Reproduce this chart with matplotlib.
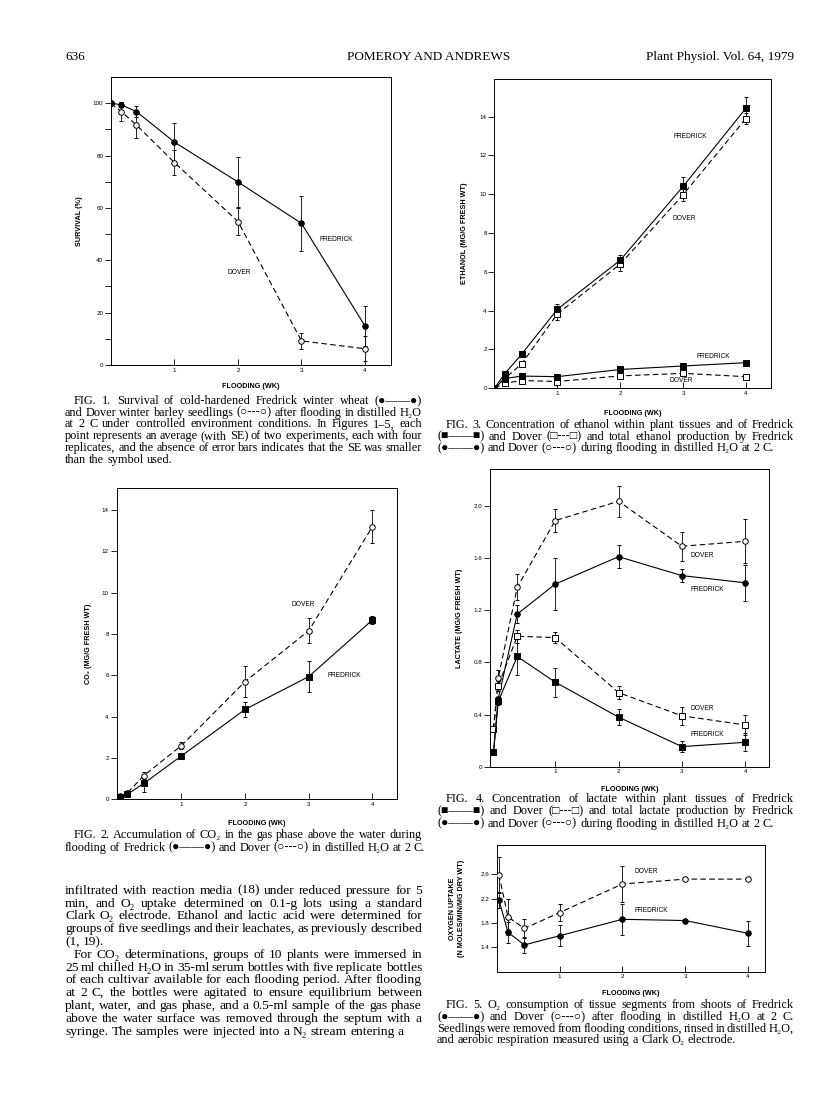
import matplotlib
matplotlib.use('Agg')
import matplotlib.pyplot as plt
from matplotlib.transforms import IdentityTransform

W, H = 816, 1100
SERIF = ['Liberation Serif', 'DejaVu Sans']
SANS = ['Liberation Sans', 'DejaVu Sans']

# Fig. 1 survival (%)
weeks1 = [0, 0.16, 0.4, 1, 2, 3, 4]
fred1 = [100, 99.4, 96.8, 85.1, 69.9, 54.1, 14.9]
fred1_se = [0, 1, 2, 7.4, 9.7, 10.6, 7.5]
dover1 = [100, 96.8, 91.7, 77.3, 54.8, 9.2, 6.2]
dover1_se = [0, 3.5, 5, 4.7, 5, 3.2, 4.8]

# Fig. 2 CO2
weeks2 = [0.03, 0.15, 0.41, 1, 2, 3, 4]
fred2 = [0.13, 0.24, 0.77, 2.1, 4.35, 5.94, 8.68]
fred2_se = [0, 0, 0.42, 0, 0.37, 0.77, 0.2]
dover2 = [0.16, 0.3, 1.15, 2.6, 5.7, 8.16, 13.2]
dover2_se = [0, 0, 0.17, 0.15, 0.77, 0.6, 0.8]

# Fig. 3 ethanol
weeks3 = [0, 0.16, 0.43, 1, 2, 3, 4]
fred3_total = [0, 0.74, 1.75, 4.07, 6.6, 10.4, 14.43]
fred3_total_se = [0, 0, 0, 0.28, 0.25, 0.48, 0.6]
dover3_total = [0, 0.5, 1.25, 3.83, 6.4, 9.97, 13.9]
dover3_total_se = [0, 0, 0, 0.3, 0.35, 0.3, 0.3]
fred3_tissue = [0, 0.5, 0.63, 0.6, 0.97, 1.15, 1.32]
dover3_tissue = [0, 0.26, 0.4, 0.35, 0.64, 0.77, 0.6]

# Fig. 4 lactate
weeks4 = [0.025, 0.1, 0.4, 1, 2, 3, 4]
fred4_total = [0.11, 0.52, 1.17, 1.4, 1.61, 1.465, 1.41]
fred4_total_se = [0, 0, 0.07, 0.2, 0.09, 0.05, 0.14]
dover4_total = [0.29, 0.68, 1.375, 1.887, 2.035, 1.69, 1.728]
dover4_total_se = [0, 0.06, 0.1, 0.09, 0.12, 0.11, 0.17]
fred4_tissue = [0.11, 0.5, 0.845, 0.648, 0.38, 0.154, 0.187]
fred4_tissue_se = [0, 0.03, 0.14, 0.11, 0.06, 0.04, 0.07]
dover4_tissue = [0.29, 0.62, 1.0, 0.99, 0.568, 0.39, 0.32]
dover4_tissue_se = [0, 0.04, 0.05, 0.04, 0.05, 0.07, 0.08]

# Fig. 5 oxygen uptake
weeks5 = [0.035, 0.18, 0.44, 1, 2, 3, 4]
fred5 = [2.18, 1.645, 1.44, 1.59, 1.86, 1.84, 1.63]
fred5_se = [0.13, 0.17, 0.13, 0.17, 0.25, 0.02, 0.2]
dover5 = [2.59, 1.9, 1.71, 1.97, 2.44, 2.52, 2.52]
dover5_se = [0.3, 0.3, 0.15, 0.14, 0.3, 0.03, 0.03]

fig = plt.figure(figsize=(W / 100, H / 100), dpi=100)
fig.patch.set_facecolor('white')
rend = fig.canvas.get_renderer()


def put_line(txt, x0, x1, y, size, justify=True):
    """一行文字, y 为行中心(像素, 自上而下)"""
    base = H - y - size * 0.33 * 100 / 72
    words = txt.split(' ')
    objs = [fig.text(0, base, w, fontsize=size, family=SERIF,
                     transform=IdentityTransform(), va='baseline') for w in words]
    widths = [o.get_window_extent(renderer=rend).width for o in objs]
    if justify and len(words) > 1:
        gap = (x1 - x0 - sum(widths)) / (len(words) - 1)
    else:
        gap = size * 0.25 * 100 / 72
    x = x0
    for o, w in zip(objs, widths):
        o.set_x(x)
        x += w + gap


def para(lines, x0, x1, y0, dy, size, indent=9):
    for i, ln in enumerate(lines):
        ind = indent if ln.startswith('FIG.') or ln.startswith('For ') else 0
        last = i == len(lines) - 1 or ln.endswith('(1, 19).')
        put_line(ln, x0 + ind, x1, y0 + i * dy, size, justify=not last)


def panel(l, t, r, b, xmin, xmax, ylim, yticks, ylabels, ylabel, ylab_off, xlab_off):
    ax = fig.add_axes([l / W, 1 - b / H, (r - l) / W, (b - t) / H])
    ax.set_xlim(xmin, xmax)
    ax.set_ylim(*ylim)
    ax.set_xticks([1, 2, 3, 4])
    ax.set_xticklabels(['1', '2', '3', '4'], family=SANS)
    ax.set_yticks(yticks)
    ax.set_yticklabels(ylabels, family=SANS)
    ax.tick_params(axis='x', direction='in', length=4, width=0.6, labelsize=4.5, pad=2)
    ax.tick_params(axis='y', direction='out', length=4, width=0.6, labelsize=4.5, pad=1.5)
    for s in ax.spines.values():
        s.set_linewidth(0.7)
    ax.set_xlabel('FLOODING (WK)', fontsize=5.2, fontweight='bold', family=SANS)
    ax.xaxis.set_label_coords(0.5, -xlab_off / (b - t))
    ax.set_ylabel(ylabel, fontsize=5.2, fontweight='bold', family=SANS, linespacing=1.4)
    ax.yaxis.set_label_coords(-ylab_off / (r - l), 0.5)
    return ax


def series(ax, x, y, se, marker, filled, dashed):
    ax.errorbar(x, y, yerr=se, color='k', lw=0.8,
                ls=(0, (5, 3)) if dashed else '-',
                marker=marker, ms=4, mfc='k' if filled else 'white', mec='k', mew=0.7,
                elinewidth=0.6, capsize=1.5, capthick=0.6, zorder=3)


def tag(ax, x, y, s):
    ax.text(x, y, s, fontsize=4.8, family=SANS, va='center', ha='left')


# 页眉
fig.text(65, H - 60, '636', fontsize=9.5, family=SERIF, transform=IdentityTransform())
fig.text(429, H - 60, 'POMEROY AND ANDREWS', fontsize=9.5, family=SERIF, ha='center',
         transform=IdentityTransform())
fig.text(794, H - 60, 'Plant Physiol. Vol. 64, 1979', fontsize=9.5, family=SERIF, ha='right',
         transform=IdentityTransform())

# 图1
ax1 = panel(111, 77, 391, 365, 0, 4.41, (0, 110), [0, 20, 40, 60, 80, 100],
            ['0', '20', '40', '60', '80', '100'], 'SURVIVAL (%)', 28, 18)
ax1.set_yticks([10, 30, 50, 70, 90], minor=True)
ax1.tick_params(axis='y', which='minor', direction='out', length=4, width=0.6)
series(ax1, weeks1, dover1, dover1_se, 'o', False, True)
series(ax1, weeks1, fred1, fred1_se, 'o', True, False)
tag(ax1, 3.29, 47.8, 'FREDRICK')
tag(ax1, 1.84, 35.3, 'DOVER')

# 图2
ax2 = panel(116.5, 488.3, 397.3, 799.3, -0.02, 4.39, (0, 15.05), list(range(0, 15, 2)),
            [str(v) for v in range(0, 15, 2)], 'CO₂ (MG/G FRESH WT)', 24, 21)
series(ax2, weeks2, dover2, dover2_se, 'o', False, True)
series(ax2, weeks2, fred2, fred2_se, 's', True, False)
tag(ax2, 2.73, 9.45, 'DOVER')
tag(ax2, 3.3, 5.98, 'FREDRICK')

# 图3
ax3 = panel(494.5, 79, 771, 388.3, 0, 4.40, (0, 15.94), list(range(0, 15, 2)),
            [str(v) for v in range(0, 15, 2)], 'ETHANOL (MG/G FRESH WT)', 26, 22)
series(ax3, weeks3, dover3_total, dover3_total_se, 's', False, True)
series(ax3, weeks3, fred3_total, fred3_total_se, 's', True, False)
series(ax3, weeks3, dover3_tissue, [0] * 7, 's', False, True)
series(ax3, weeks3, fred3_tissue, [0] * 7, 's', True, False)
tag(ax3, 2.85, 13.0, 'FREDRICK')
tag(ax3, 2.84, 8.76, 'DOVER')
tag(ax3, 3.22, 1.63, 'FREDRICK')
tag(ax3, 2.79, 0.38, 'DOVER')

# 图4
ax4 = panel(490, 469.3, 769.3, 766.7, -0.03, 4.38, (0, 2.28), [0, 0.4, 0.8, 1.2, 1.6, 2.0],
            ['0', '0.4', '0.8', '1.2', '1.6', '2.0'], 'LACTATE (MG/G FRESH WT)', 27, 19)
series(ax4, weeks4, dover4_total, dover4_total_se, 'o', False, True)
series(ax4, weeks4, fred4_total, fred4_total_se, 'o', True, False)
series(ax4, weeks4, dover4_tissue, dover4_tissue_se, 's', False, True)
series(ax4, weeks4, fred4_tissue, fred4_tissue_se, 's', True, False)
tag(ax4, 3.14, 1.62, 'DOVER')
tag(ax4, 3.14, 1.357, 'FREDRICK')
tag(ax4, 3.14, 0.443, 'DOVER')
tag(ax4, 3.14, 0.248, 'FREDRICK')

# 图5
ax5 = panel(496.7, 845, 765, 971.7, 0, 4.27, (1.0, 3.08), [1.4, 1.8, 2.2, 2.6],
            ['1.4', '1.8', '2.2', '2.6'], 'OXYGEN UPTAKE\n(N MOLES/MIN/MG DRY WT)', 32, 18)
series(ax5, weeks5, dover5, dover5_se, 'o', False, True)
series(ax5, weeks5, fred5, fred5_se, 'o', True, False)
tag(ax5, 2.2, 2.64, 'DOVER')
tag(ax5, 2.2, 2.01, 'FREDRICK')

# 图注与正文
cap = 8.8
para(['FIG. 1. Survival of cold-hardened Fredrick winter wheat (●——●)',
      'and Dover winter barley seedlings (○---○) after flooding in distilled H₂O',
      'at 2 C under controlled environment conditions. In Figures 1–5, each',
      'point represents an average (with SE) of two experiments, each with four',
      'replicates, and the absence of error bars indicates that the SE was smaller',
      'than the symbol used.'], 65, 422, 400, 11.7, cap)

para(['FIG. 2. Accumulation of CO₂ in the gas phase above the water during',
      'flooding of Fredrick (●——●) and Dover (○---○) in distilled H₂O at 2 C.'],
     65, 422, 834, 12.5, cap)

para(['infiltrated with reaction media (18) under reduced pressure for 5',
      'min, and O₂ uptake determined on 0.1-g lots using a standard',
      'Clark O₂ electrode. Ethanol and lactic acid were determined for',
      'groups of five seedlings and their leachates, as previously described',
      '(1, 19).',
      'For CO₂ determinations, groups of 10 plants were immersed in',
      '25 ml chilled H₂O in 35-ml serum bottles with five replicate bottles',
      'of each cultivar available for each flooding period. After flooding',
      'at 2 C, the bottles were agitated to ensure equilibrium between',
      'plant, water, and gas phase, and a 0.5-ml sample of the gas phase',
      'above the water surface was removed through the septum with a',
      'syringe. The samples were injected into a N₂ stream entering a'],
     65, 422, 889.3, 12.8, 9.7)

para(['FIG. 3. Concentration of ethanol within plant tissues and of Fredrick',
      '(■——■) and Dover (□---□) and total ethanol production by Fredrick',
      '(●——●) and Dover (○---○) during flooding in distilled H₂O at 2 C.'],
     437, 794, 424, 11.6, cap)

para(['FIG. 4. Concentration of lactate within plant tissues of Fredrick',
      '(■——■) and Dover (□---□) and total lactate production by Fredrick',
      '(●——●) and Dover (○---○) during flooding in distilled H₂O at 2 C.'],
     437, 794, 797.5, 12.5, cap)

para(['FIG. 5. O₂ consumption of tissue segments from shoots of Fredrick',
      '(●——●) and Dover (○---○) after flooding in distilled H₂O at 2 C.',
      'Seedlings were removed from flooding conditions, rinsed in distilled H₂O,',
      'and aerobic respiration measured using a Clark O₂ electrode.'],
     437, 794, 1004, 11.8, cap)

plt.savefig('out.png', dpi=100)
